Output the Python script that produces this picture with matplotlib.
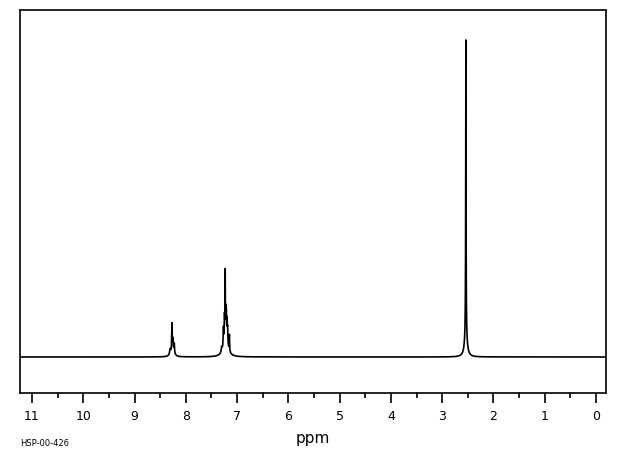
import matplotlib
matplotlib.use("Agg")
import matplotlib.pyplot as plt
import numpy as np

# peak list: position (ppm), height (baseline = 0), half width (ppm)
peak_ppm = [8.26, 8.305, 8.27, 8.25, 8.225,
            7.22, 7.30, 7.265, 7.245, 7.232, 7.222, 7.21, 7.195, 7.185, 7.15,
            2.538, 2.538, 2.5385]
peak_height = [10, 5, 24, 9, 9,
                24, 5, 18, 22, 61, 20, 22, 18, 14, 16,
                20, 205, 94]
peak_width = [0.03, 0.01, 0.004, 0.006, 0.006,
              0.04, 0.012, 0.006, 0.004, 0.003, 0.003, 0.004, 0.004, 0.005, 0.004,
              0.03, 0.005, 0.0008]

major_ticks = list(range(0, 12))
minor_ticks = [v + 0.5 for v in range(0, 11)]
sample_id = "HSP-00-426"


def spectrum(x):
    y = np.zeros_like(x)
    for p, h, g in zip(peak_ppm, peak_height, peak_width):
        y += h * g ** 2 / ((x - p) ** 2 + g ** 2)
    return y


def main():
    x = np.linspace(-0.3, 11.4, 80000)
    y = spectrum(x)

    fig = plt.figure(figsize=(6.2, 4.55), dpi=100)
    ax = fig.add_axes([20 / 620, 62 / 455, 586 / 620, 383 / 455])
    ax.plot(x, y, color="black", linewidth=1.2)

    ax.set_xlim(11.234, -0.195)
    ax.set_ylim(-36, 347)
    ax.set_yticks([])
    ax.set_xticks(major_ticks)
    ax.set_xticks(minor_ticks, minor=True)
    ax.set_xticklabels([str(t) for t in major_ticks])
    ax.tick_params(axis="x", which="major", direction="out", length=7.2, width=1.2,
                   pad=5, labelsize=9)
    ax.tick_params(axis="x", which="minor", direction="out", length=3.6, width=1.2)
    for s in ax.spines.values():
        s.set_linewidth(1.2)

    ax.set_xlabel("ppm", fontsize=11, labelpad=6)
    fig.text(20 / 620, 1 - 443 / 455, sample_id, fontsize=6, va="center", ha="left")

    fig.savefig("out.png", dpi=100)


if __name__ == "__main__":
    main()
